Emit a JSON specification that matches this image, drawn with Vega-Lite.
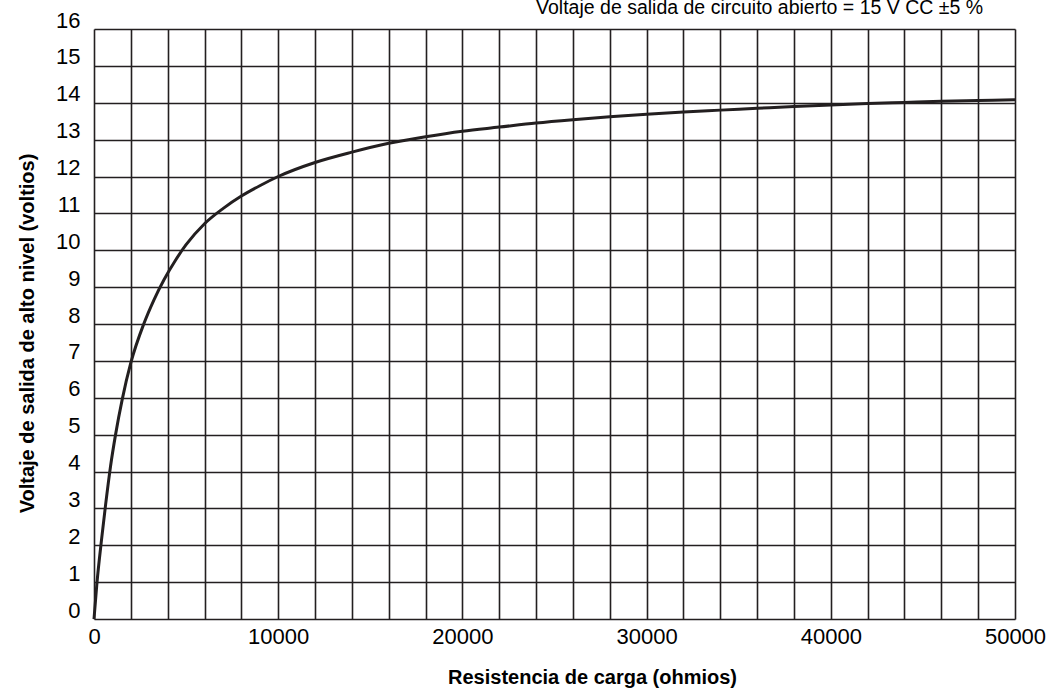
{
  "$schema": "https://vega.github.io/schema/vega-lite/v6.json",
  "width": 921,
  "height": 590,
  "autosize": "none",
  "padding": {"left": 94, "top": 29, "right": 33, "bottom": 72},
  "background": "white",
  "config": {
    "view": {"stroke": null},
    "axis": {
      "ticks": false,
      "domain": false,
      "grid": true,
      "gridColor": "#231f20",
      "gridWidth": 1.6,
      "gridOpacity": 1,
      "labelFont": "Liberation Sans",
      "labelFontSize": 22,
      "labelColor": "#000000",
      "labelOverlap": false,
      "titleFont": "Liberation Sans",
      "titleFontSize": 20,
      "titleFontWeight": "bold",
      "titleColor": "#000000"
    }
  },
  "layer": [
    {
      "data": {
        "values": [
          {"r": 0, "v": 0},
          {"r": 150, "v": 0.92},
          {"r": 420, "v": 2.2},
          {"r": 630, "v": 3.1},
          {"r": 900, "v": 4.15},
          {"r": 1170, "v": 5.0},
          {"r": 1530, "v": 5.95},
          {"r": 2000, "v": 6.95},
          {"r": 2700, "v": 8.0},
          {"r": 3250, "v": 8.65},
          {"r": 3800, "v": 9.2},
          {"r": 4425, "v": 9.73},
          {"r": 5000, "v": 10.15},
          {"r": 6000, "v": 10.72},
          {"r": 7000, "v": 11.13},
          {"r": 8000, "v": 11.47},
          {"r": 9000, "v": 11.75},
          {"r": 10000, "v": 12.0},
          {"r": 12000, "v": 12.38},
          {"r": 14000, "v": 12.66},
          {"r": 16000, "v": 12.9},
          {"r": 18000, "v": 13.08},
          {"r": 20000, "v": 13.23},
          {"r": 22000, "v": 13.34},
          {"r": 24000, "v": 13.45},
          {"r": 26000, "v": 13.54},
          {"r": 28000, "v": 13.62},
          {"r": 30000, "v": 13.69},
          {"r": 32000, "v": 13.75},
          {"r": 34000, "v": 13.8},
          {"r": 36000, "v": 13.85},
          {"r": 38000, "v": 13.9},
          {"r": 40000, "v": 13.94},
          {"r": 42000, "v": 13.98},
          {"r": 44000, "v": 14.01},
          {"r": 46000, "v": 14.04},
          {"r": 48000, "v": 14.06},
          {"r": 50000, "v": 14.08}
        ]
      },
      "mark": {"type": "line", "interpolate": "monotone", "color": "#231f20", "strokeWidth": 3},
      "encoding": {
        "x": {
          "field": "r",
          "type": "quantitative",
          "scale": {"domain": [0, 50000], "nice": false, "zero": true},
          "axis": {
            "title": "Resistencia de carga (ohmios)",
            "values": [0, 2000, 4000, 6000, 8000, 10000, 12000, 14000, 16000, 18000, 20000, 22000, 24000, 26000, 28000, 30000, 32000, 34000, 36000, 38000, 40000, 42000, 44000, 46000, 48000, 50000],
            "labelExpr": "datum.value % 10000 === 0 ? '' + datum.value : ''",
            "labelFlush": false,
            "labelPadding": 7,
            "titleX": 498,
            "titleY": 64,
            "titleAlign": "center",
            "titleBaseline": "alphabetic"
          }
        },
        "y": {
          "field": "v",
          "type": "quantitative",
          "scale": {"domain": [0, 16], "nice": false},
          "axis": {
            "title": "Voltaje de salida de alto nivel (voltios)",
            "values": [0, 1, 2, 3, 4, 5, 6, 7, 8, 9, 10, 11, 12, 13, 14, 15, 16],
            "labelBaseline": "alphabetic",
            "labelOffset": -2,
            "labelPadding": 14,
            "titleX": -61,
            "titleY": 304,
            "titleAngle": 270,
            "titleAlign": "center",
            "titleBaseline": "alphabetic"
          }
        }
      }
    },
    {
      "data": {"values": [{"note": "Voltaje de salida de circuito abierto = 15 V CC ±5 %"}]},
      "mark": {
        "type": "text",
        "align": "left",
        "baseline": "alphabetic",
        "font": "Liberation Sans",
        "fontSize": 19.5,
        "color": "#000000",
        "dy": -15
      },
      "encoding": {
        "x": {
          "datum": 24000,
          "type": "quantitative",
          "axis": {
            "title": "Resistencia de carga (ohmios)",
            "values": [0, 2000, 4000, 6000, 8000, 10000, 12000, 14000, 16000, 18000, 20000, 22000, 24000, 26000, 28000, 30000, 32000, 34000, 36000, 38000, 40000, 42000, 44000, 46000, 48000, 50000],
            "labelExpr": "datum.value % 10000 === 0 ? '' + datum.value : ''",
            "labelFlush": false,
            "labelPadding": 7,
            "titleX": 498,
            "titleY": 64,
            "titleAlign": "center",
            "titleBaseline": "alphabetic"
          }
        },
        "y": {
          "datum": 16,
          "type": "quantitative",
          "axis": {
            "title": "Voltaje de salida de alto nivel (voltios)",
            "values": [0, 1, 2, 3, 4, 5, 6, 7, 8, 9, 10, 11, 12, 13, 14, 15, 16],
            "labelBaseline": "alphabetic",
            "labelOffset": -2,
            "labelPadding": 14,
            "titleX": -61,
            "titleY": 304,
            "titleAngle": 270,
            "titleAlign": "center",
            "titleBaseline": "alphabetic"
          }
        },
        "text": {"field": "note"}
      }
    }
  ]
}
